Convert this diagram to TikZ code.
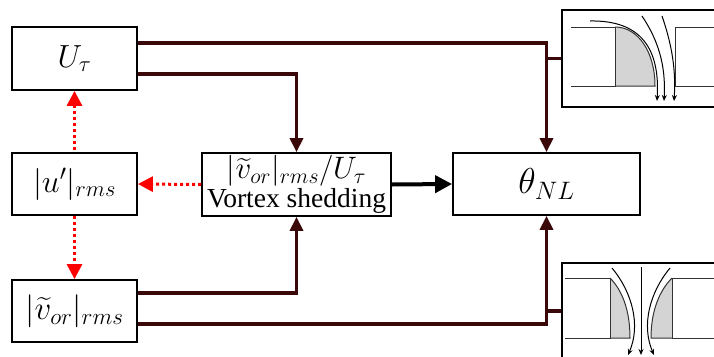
\RequirePackage{fix-cm}
\documentclass[tikz,border=0pt]{standalone}
\usepackage{fontspec}
\setmainfont{Liberation Serif}
\usepackage{amsmath}
\usetikzlibrary{arrows.meta,calc}
\definecolor{linkbrown}{HTML}{3A0808}
\definecolor{platefill}{HTML}{D4D4D4}
\tikzset{
  block/.style={draw=black, line width=1.8pt, fill=white, inner sep=0pt,
    minimum width=125pt, minimum height=63pt, font=\fontsize{32}{34}\selectfont},
  link/.style={draw=linkbrown, line width=3.4pt},
  linktip/.style={-{Triangle[width=13pt,length=14pt]}},
  corr/.style={draw=red, line width=3pt, dash pattern=on 3pt off 3pt},
  inset/.style={draw=black, line width=2pt, fill=white, inner sep=0pt},
  plate/.style={draw=black!80, line width=1pt},
  flow/.style={draw=black, line width=1pt, -{Stealth[width=5pt,length=6pt]}},
}
\begin{document}
\begin{tikzpicture}[x=1pt,y=-1pt]
\useasboundingbox (0,0) rectangle (714,356);
\clip (0,0) rectangle (714,356);

% parameter blocks
\node[block] (ut) at (74.5,58.5) {$U_\tau$};
\node[block, minimum height=62pt] (up) at (74.5,184) {$|u'|_{rms}$};
\node[block, minimum height=62pt, font=\fontsize{33}{35}\selectfont] (vt) at (74.5,311) {$|\widetilde{v}_{or}|_{rms}$};
\node[block, minimum width=189pt, align=center, font=\fontsize{27.5}{29}\selectfont] (vs) at (296.5,184.5)
  {\fontsize{31}{31}\selectfont$|\widetilde{v}_{or}|_{rms}/U_\tau$\\\fontsize{27.5}{29}\selectfont Vortex shedding};
\node[block, minimum width=187pt, minimum height=62pt, font=\fontsize{36}{38}\selectfont] (th) at (546.5,184) {$\theta_{NL}$};

% orifice sketches
\node[inset, minimum width=158pt, minimum height=97pt] (topinset) at (641,58.5) {};
\node[inset, minimum width=158pt, minimum height=96pt] (botinset) at (641,311) {};

% rounded-edge orifice
\fill[platefill] (615,86) -- (615,27) .. controls (638,27) and (655,52) .. (655,86) -- cycle;
\draw[plate] (571,27) -- (615,27) -- (615,86) -- (571,86);
\draw[plate] (615,27) .. controls (638,27) and (655,52) .. (655,86) -- (615,86);
\draw[plate] (716,27) -- (675,27) -- (675,86) -- (716,86);
\draw[flow] (590,21) .. controls (642,20) and (660,50) .. (657,101);
\draw[flow] (642,16) .. controls (658,40) and (666,65) .. (664,101);
\draw[flow] (662,16) .. controls (672,45) and (676,70) .. (674,101);

% symmetric orifice with rounded inlets
\fill[platefill] (610,278) .. controls (622,290) and (630,310) .. (630,338) -- (610,338) -- cycle;
\fill[platefill] (672,278) .. controls (660,290) and (651,310) .. (651,338) -- (672,338) -- cycle;
\draw[plate] (565,278) -- (610,278) -- (610,338) -- (565,338);
\draw[plate] (610,278) .. controls (622,290) and (630,310) .. (630,338) -- (610,338);
\draw[plate] (716,278) -- (672,278) -- (672,338) -- (716,338);
\draw[plate] (672,278) .. controls (660,290) and (651,310) .. (651,338) -- (672,338);
\draw[flow] (641,267) -- (641,355);
\draw[flow] (612,268) .. controls (632,292) and (641,325) .. (628,355);
\draw[flow] (670,268) .. controls (650,292) and (641,325) .. (654,355);

% influence links
\draw[link, linktip] ([yshift=15.5pt]ut.east) -| (th.north);
\draw[link, linktip] ([yshift=-15.5pt]ut.east) -| (vs.north);
\draw[link, linktip] ([yshift=18pt]vt.east) -| (vs.south);
\draw[link, linktip] ([yshift=-13pt]vt.east) -| (th.south);
\coordinate (jt) at (th.north |- topinset.west);
\coordinate (jb) at (th.south |- botinset.west);
\draw[link] (jt) -- (topinset.west);
\draw[link] (jb) -- (botinset.west);

\draw[line width=4pt, -{Triangle[width=17pt,length=17pt]}] (vs.east) -- (th.west);

% correlations
\draw[corr, -{Triangle[width=15pt,length=15pt]}] (vs.west) -- (up.east);
\draw[corr, {Triangle[width=15pt,length=15pt]}-] (ut.south) -- (up.north);
\draw[corr, -{Triangle[width=15pt,length=15pt]}] (up.south) -- (vt.north);
\end{tikzpicture}
\end{document}
